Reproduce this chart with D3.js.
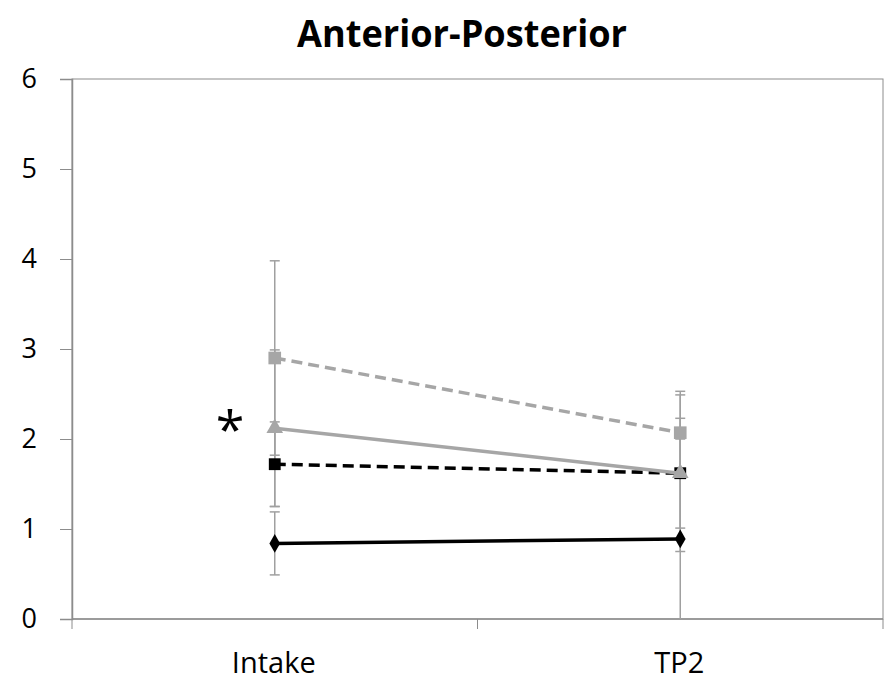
<!DOCTYPE html>
<html>
<head>
<meta charset="utf-8">
<script src="https://cdn.jsdelivr.net/npm/d3@7"></script>
<style>
  body { margin: 0; background: #fff; }
  text { font-family: "Open Sans", "Noto Sans", sans-serif; }
</style>
</head>
<body>
<div id="chart"></div>
<script>
// categories and series values
const categories = ["Intake", "TP2"];
const yTicks = [0, 1, 2, 3, 4, 5, 6];

const diamondVals = [0.84, 0.89];
const diamondErr = [0.35, 1.11];
const blackSquareVals = [1.72, 1.62];
const blackSquareErr = [0.47, 0.61];
const triangleVals = [2.12, 1.62];
const triangleErr = [0.87, 0.87];
const greySquareVals = [2.90, 2.07];
const greySquareErr = [1.08, 0.46];

const series = [
  { vals: diamondVals, err: diamondErr, color: "#000", dash: null, marker: d3.symbolDiamond, size: 100 },
  { vals: blackSquareVals, err: blackSquareErr, color: "#000", dash: "11,6", marker: d3.symbolSquare, size: 140 },
  { vals: triangleVals, err: triangleErr, color: "#a6a6a6", dash: null, marker: d3.symbolTriangle, size: 120 },
  { vals: greySquareVals, err: greySquareErr, color: "#a6a6a6", dash: "11,6", marker: d3.symbolSquare, size: 160 }
];

const width = 891, height = 682;
const margin = { left: 72, right: 883, top: 79, bottom: 619 };

const svg = d3.select("#chart").append("svg")
    .attr("width", width)
    .attr("height", height);

const x = d3.scaleBand().domain(categories).range([margin.left, margin.right]);
const y = d3.scaleLinear().domain([0, 6]).range([margin.bottom, margin.top]);

// title
svg.append("text")
    .attr("x", 462)
    .attr("y", 47)
    .attr("text-anchor", "middle")
    .attr("textLength", 330)
    .attr("lengthAdjust", "spacingAndGlyphs")
    .style("font-size", "38px")
    .style("font-weight", "bold")
    .text("Anterior-Posterior");

// plot frame
svg.append("rect")
    .attr("x", margin.left).attr("y", margin.top)
    .attr("width", margin.right - margin.left).attr("height", margin.bottom - margin.top)
    .attr("fill", "none")
    .attr("stroke", "#8c8c8c")
    .attr("stroke-width", 1);

// y axis
const yAxis = svg.append("g")
    .attr("transform", "translate(" + margin.left + ",0)")
    .call(d3.axisLeft(y).tickValues(yTicks).tickSize(12).tickPadding(23).tickFormat(d3.format("d")));
yAxis.select(".domain").attr("stroke", "#8c8c8c").attr("stroke-width", 1.5);
yAxis.selectAll(".tick line").attr("stroke", "#8c8c8c");
yAxis.selectAll(".tick text").style("font-size", "27px").attr("fill", "#000");

// x axis with ticks at category boundaries
const xAxis = svg.append("g").attr("transform", "translate(0," + margin.bottom + ")");
xAxis.append("line")
    .attr("x1", margin.left).attr("x2", margin.right)
    .attr("stroke", "#8c8c8c").attr("stroke-width", 1.5);
const bounds = [margin.left].concat(categories.map(c => x(c) + x.bandwidth()));
xAxis.selectAll(".xtick")
    .data(bounds)
    .enter().append("line")
    .attr("class", "xtick")
    .attr("x1", d => d).attr("x2", d => d)
    .attr("y1", 0).attr("y2", 10)
    .attr("stroke", "#8c8c8c");
xAxis.selectAll(".xlabel")
    .data(categories)
    .enter().append("text")
    .attr("class", "xlabel")
    .attr("x", d => x(d) + x.bandwidth() / 2 - 1)
    .attr("y", 54)
    .attr("text-anchor", "middle")
    .style("font-size", "29px")
    .text(d => d);

const cx = c => x(c) + x.bandwidth() / 2;

svg.append("clipPath").attr("id", "plot")
  .append("rect")
    .attr("x", margin.left).attr("y", margin.top)
    .attr("width", margin.right - margin.left).attr("height", margin.bottom - margin.top);

// error bars
const eb = svg.append("g").attr("clip-path", "url(#plot)");
series.forEach(s => {
  categories.forEach((c, i) => {
    const lo = y(s.vals[i] - s.err[i]), hi = y(s.vals[i] + s.err[i]);
    eb.append("line")
        .attr("x1", cx(c)).attr("x2", cx(c))
        .attr("y1", lo).attr("y2", hi)
        .attr("stroke", "#a0a0a0").attr("stroke-width", 1.5);
    [lo, hi].forEach(v => {
      eb.append("line")
          .attr("x1", cx(c) - 5).attr("x2", cx(c) + 5)
          .attr("y1", v).attr("y2", v)
          .attr("stroke", "#a0a0a0").attr("stroke-width", 1.5);
    });
  });
});

// lines and markers
const line = d3.line()
    .x((d, i) => cx(categories[i]))
    .y(d => y(d));

series.forEach(s => {
  svg.append("path")
      .datum(s.vals)
      .attr("d", line)
      .attr("fill", "none")
      .attr("stroke", s.color)
      .attr("stroke-width", 3.5)
      .attr("stroke-dasharray", s.dash);
  svg.selectAll(null)
      .data(s.vals)
      .enter().append("path")
      .attr("transform", (d, i) => "translate(" + cx(categories[i]) + "," + y(d) + ")")
      .attr("d", d3.symbol().type(s.marker).size(s.size))
      .attr("fill", s.color);
});

// significance mark
svg.append("text")
    .attr("x", 230)
    .attr("y", 448)
    .attr("text-anchor", "middle")
    .style("font-size", "52px")
    .text("*");
</script>
</body>
</html>
